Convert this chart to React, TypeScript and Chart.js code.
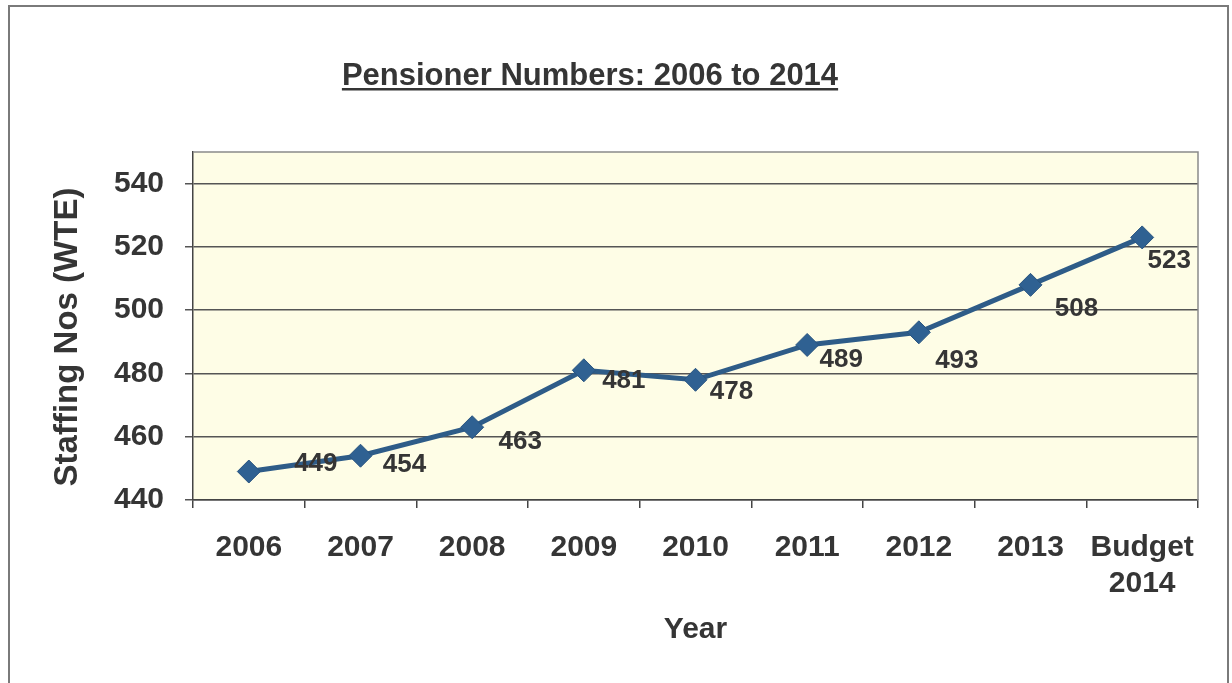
import React, { useEffect, useRef } from "react";
import { Chart, registerables } from "chart.js";

Chart.register(...registerables);

const categories: (string | string[])[] = ["2006", "2007", "2008", "2009", "2010", "2011", "2012", "2013", ["Budget", "2014"]];
const pensioners = [449, 454, 463, 481, 478, 489, 493, 508, 523];
const yTicks = [440, 460, 480, 500, 520, 540];
const yMin = 440;
const yMax = 550;
// per-point label nudges (pixels, relative to the point), as placed in the original
const labelOffsets = [[67, -8], [44, 9], [48, 15], [40, 11], [36, 12], [34, 15], [38, 29], [46, 24], [27, 23]];
const chartTitle = "Pensioner Numbers: 2006 to 2014";
const yTitle = "Staffing Nos (WTE)";
const xTitle = "Year";

const FONT = "'Liberation Sans', Arial, sans-serif";
const TEXT = "#353535";

const decorPlugin = {
  id: "decor",
  beforeDraw(chart: any) {
    const { ctx, chartArea: a } = chart;
    ctx.save();
    // outer frame
    ctx.strokeStyle = "#7a7a7a";
    ctx.lineWidth = 2;
    ctx.beginPath();
    ctx.moveTo(9, 700);
    ctx.lineTo(9, 6);
    ctx.lineTo(1228, 6);
    ctx.lineTo(1228, 700);
    ctx.stroke();
    // plot background
    ctx.fillStyle = "#FEFDE6";
    ctx.fillRect(a.left, a.top, a.right - a.left, a.bottom - a.top);
    // title
    ctx.font = `bold 31px ${FONT}`;
    ctx.fillStyle = TEXT;
    ctx.textAlign = "center";
    ctx.textBaseline = "alphabetic";
    const cx = 590;
    const by = 85;
    ctx.fillText(chartTitle, cx, by);
    const w = ctx.measureText(chartTitle).width;
    ctx.fillRect(cx - w / 2, by + 3, w, 2.5);
    // y title
    ctx.translate(68, 337);
    ctx.rotate(-Math.PI / 2);
    ctx.font = `bold 33px ${FONT}`;
    ctx.textBaseline = "middle";
    ctx.fillText(yTitle, 0, 0);
    ctx.restore();
  },
  beforeDatasetsDraw(chart: any) {
    const { ctx, chartArea: a } = chart;
    ctx.save();
    ctx.strokeStyle = "#8a8a8a";
    ctx.lineWidth = 1.5;
    ctx.beginPath();
    ctx.moveTo(a.left, a.top);
    ctx.lineTo(a.right, a.top);
    ctx.lineTo(a.right, a.bottom);
    ctx.stroke();
    ctx.restore();
  },
  afterDatasetsDraw(chart: any) {
    const { ctx } = chart;
    const meta = chart.getDatasetMeta(0);
    ctx.save();
    ctx.font = `bold 26px ${FONT}`;
    ctx.fillStyle = TEXT;
    ctx.textAlign = "center";
    ctx.textBaseline = "middle";
    meta.data.forEach((pt: any, i: number) => {
      const [dx, dy] = labelOffsets[i];
      ctx.fillText(String(pensioners[i]), pt.x + dx, pt.y + dy);
    });
    ctx.restore();
  },
};

export default function App() {
  const ref = useRef<HTMLCanvasElement | null>(null);
  useEffect(() => {
    if (!ref.current) return;
    const chart = new Chart(ref.current, {
      type: "line",
      data: {
        labels: categories as any,
        datasets: [
          {
            data: pensioners,
            borderColor: "#2E5C88",
            backgroundColor: "#2F6192",
            borderWidth: 5,
            pointStyle: "rectRot",
            pointRadius: 11.5,
            pointBorderWidth: 1,
            pointBorderColor: "#2A5580",
            pointBackgroundColor: "#2F6192",
            tension: 0,
          },
        ],
      },
      options: {
        responsive: false,
        animation: false,
        layout: { padding: { left: 10, top: 152, right: 34, bottom: 20 } },
        plugins: { legend: { display: false }, tooltip: { enabled: false } },
        scales: {
          x: {
            type: "category",
            offset: true,
            grid: { drawOnChartArea: false, offset: true, tickLength: 8, color: "#444", lineWidth: 1.5 },
            border: { color: "#444", width: 1.5 },
            ticks: { color: TEXT, font: { family: FONT, size: 30, weight: "bold" }, padding: 22, maxRotation: 0, autoSkip: false },
            title: { display: true, text: xTitle, color: TEXT, font: { family: FONT, size: 30, weight: "bold" }, padding: { top: 0, bottom: 15 } },
            afterFit(scale: any) { scale.height = 163; },
          },
          y: {
            min: yMin,
            max: yMax,
            afterBuildTicks(scale: any) { scale.ticks = yTicks.map((v) => ({ value: v })); },
            grid: { color: "#555", lineWidth: 1.5, tickLength: 8 },
            border: { color: "#444", width: 1.5 },
            ticks: { color: TEXT, font: { family: FONT, size: 30, weight: "bold" }, padding: 21 },
            afterFit(scale: any) { scale.width = 183; },
          },
        },
      },
      plugins: [decorPlugin],
    });
    return () => chart.destroy();
  }, []);
  return (
    <div style={{ position: "absolute", left: 0, top: 0, width: 1232, height: 683, background: "#fff" }}>
      <canvas ref={ref} width={1232} height={683} />
    </div>
  );
}
